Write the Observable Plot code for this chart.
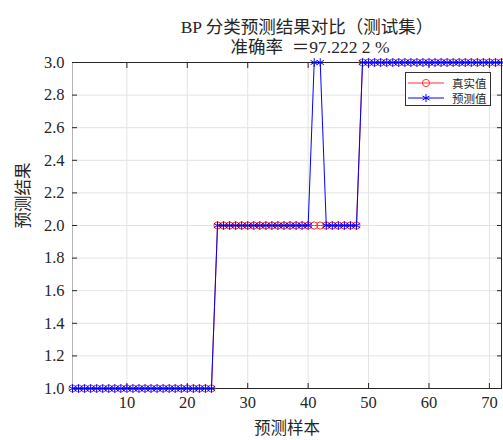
<!DOCTYPE html>
<html><head><meta charset="utf-8">
<script src="https://cdn.jsdelivr.net/npm/d3@7"></script>
<script src="https://cdn.jsdelivr.net/npm/@observablehq/plot@0.6"></script>
<style>
body{margin:0;background:#fff}
#wrap{position:relative;width:503px;height:440px}
.legend{position:absolute;left:405px;top:72px;width:86px;height:34px;border:1px solid #333;background:#fff;font:11.5px "Liberation Serif","Noto Sans CJK SC",serif;color:#262626;box-sizing:border-box}
.legend .row{position:absolute;left:0;height:14px;display:flex;align-items:center}
.legend svg{display:block}
</style></head><body><div id="wrap"></div><script>
const titleLine1 = "BP 分类预测结果对比（测试集）";
const titleLine2 = "准确率  ＝97.222 2 %";
const xLabel = "预测样本";
const yLabel = "预测结果";
const seriesNames = ["真实值", "预测值"];
const sampleIndex = [1,2,3,4,5,6,7,8,9,10,11,12,13,14,15,16,17,18,19,20,21,22,23,24,25,26,27,28,29,30,31,32,33,34,35,36,37,38,39,40,41,42,43,44,45,46,47,48,49,50,51,52,53,54,55,56,57,58,59,60,61,62,63,64,65,66,67,68,69,70,71,72];
const trueValues = [1,1,1,1,1,1,1,1,1,1,1,1,1,1,1,1,1,1,1,1,1,1,1,1,2,2,2,2,2,2,2,2,2,2,2,2,2,2,2,2,2,2,2,2,2,2,2,2,3,3,3,3,3,3,3,3,3,3,3,3,3,3,3,3,3,3,3,3,3,3,3,3];
const predValues = [1,1,1,1,1,1,1,1,1,1,1,1,1,1,1,1,1,1,1,1,1,1,1,1,2,2,2,2,2,2,2,2,2,2,2,2,2,2,2,2,3,3,2,2,2,2,2,2,3,3,3,3,3,3,3,3,3,3,3,3,3,3,3,3,3,3,3,3,3,3,3,3];
const xTicks = [10,20,30,40,50,60,70];
const yTicks = [1.0,1.2,1.4,1.6,1.8,2.0,2.2,2.4,2.6,2.8,3.0];

const data = sampleIndex.map((s,i)=>({s, t: trueValues[i], p: predValues[i]}));
const font = '"Liberation Serif","Noto Sans CJK SC",serif';
const red = "#ff3333", blue = "#0000ff";

const chart = Plot.plot({
  width: 503, height: 440,
  marginLeft: 72, marginRight: 2, marginTop: 62, marginBottom: 52,
  style: {fontFamily: font, fontSize: "16px", background: "#fff", color: "#262626", overflow: "visible"},
  x: {domain: [1, 72]},
  y: {domain: [1, 3]},
  marks: [
    Plot.gridX(xTicks, {stroke: "#e3e3e3", strokeOpacity: 1}),
    Plot.gridY(yTicks, {stroke: "#e3e3e3", strokeOpacity: 1}),
    Plot.frame({stroke: "#262626"}),
    Plot.ruleX([1], {stroke: "#b5b5b5"}),
    Plot.axisX(xTicks, {anchor: "bottom", tickSize: -5, tickPadding: 13, label: null, fontSize: 16.5}),
    Plot.axisX(xTicks, {anchor: "top", tickSize: -5, tickFormat: () => "", label: null}),
    Plot.axisY(yTicks, {anchor: "left", tickSize: -5, tickPadding: 13, tickFormat: d3.format(".1f"), label: null, fontSize: 16.5}),
    Plot.axisY(yTicks, {anchor: "right", tickSize: -5, tickFormat: () => "", label: null}),
    Plot.line(data, {x: "s", y: "t", stroke: red, strokeWidth: 1}),
    Plot.dot(data, {x: "s", y: "t", r: 3.6, stroke: red, strokeWidth: 1, fill: "none"}),
    Plot.line(data, {x: "s", y: "p", stroke: blue, strokeWidth: 1}),
    Plot.dot(data, {x: "s", y: "p", symbol: "asterisk", r: 4, stroke: blue, strokeWidth: 1}),
    Plot.text([titleLine1], {frameAnchor: "top", dx: 20, dy: -42, fontSize: 17.5, fill: "#262626"}),
    Plot.text([titleLine2], {frameAnchor: "top", dx: 23, dy: -22, fontSize: 17.5, fill: "#262626"}),
    Plot.text([xLabel], {frameAnchor: "bottom", dy: 45, fontSize: 16.5, fill: "#262626"}),
    Plot.text([yLabel], {frameAnchor: "left", dx: -48.5, dy: 3, rotate: -90, fontSize: 16.5, fill: "#262626"})
  ]
});
const wrap = document.getElementById("wrap");
wrap.appendChild(chart);

const legend = document.createElement("div");
legend.className = "legend";
const markers = [
  `<line x1="2" y1="7" x2="38" y2="7" stroke="${red}"/><circle cx="20" cy="7" r="3.6" fill="none" stroke="${red}"/>`,
  `<line x1="2" y1="7" x2="38" y2="7" stroke="${blue}"/><g stroke="${blue}"><line x1="20" y1="3" x2="20" y2="11"/><line x1="16.5" y1="5" x2="23.5" y2="9"/><line x1="16.5" y1="9" x2="23.5" y2="5"/></g>`
];
seriesNames.forEach((name, i) => {
  const row = document.createElement("div");
  row.className = "row";
  row.style.top = (3 + i * 14.5) + "px";
  row.innerHTML = `<svg width="42" height="14">${markers[i]}</svg><span style="margin-left:4px">${name}</span>`;
  legend.appendChild(row);
});
wrap.appendChild(legend);
</script></body></html>
